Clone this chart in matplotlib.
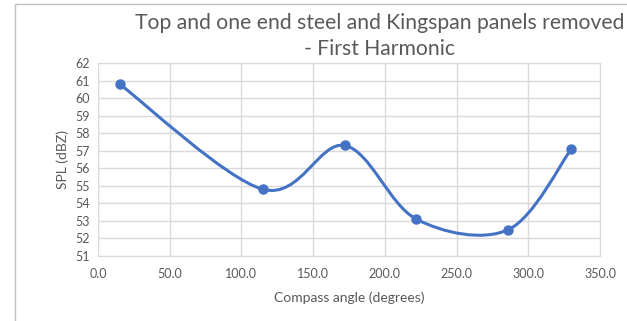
import matplotlib.pyplot as plt
import numpy as np
from matplotlib.path import Path
from matplotlib.patches import PathPatch, Rectangle

angles = [15, 115, 172, 222, 286, 330]
spl = [60.8, 54.8, 57.3, 53.1, 52.5, 57.1]

title = "Top and one end steel and Kingspan panels removed\n- First Harmonic"
x_label = "Compass angle (degrees)"
y_label = "SPL (dBZ)"

blue = "#4472C4"
grey_text = "#595959"
grid_col = "#D9D9D9"

plt.rcParams['font.family'] = ['Lato', 'DejaVu Sans']


def smooth_path(xs, ys):
    # cubic bezier through every point, spreadsheet-style smoothing
    pts = np.column_stack([xs, ys]).astype(float)
    n = len(pts)
    verts = [pts[0]]
    codes = [Path.MOVETO]
    for i in range(n - 1):
        p_prev = pts[i - 1] if i > 0 else pts[i]
        p_next2 = pts[i + 2] if i + 2 < n else pts[i + 1]
        c1 = pts[i] + (pts[i + 1] - p_prev) / 6
        c2 = pts[i + 1] - (p_next2 - pts[i]) / 6
        verts += [c1, c2, pts[i + 1]]
        codes += [Path.CURVE4] * 3
    return Path(verts, codes)


fig = plt.figure(figsize=(6.27, 3.21), dpi=100)
fig.patches.append(Rectangle((15 / 627, -0.1), 1.2, (321 - 4) / 321 + 0.1,
                             transform=fig.transFigure, fill=False,
                             edgecolor="#BFBFBF", linewidth=1))

ax = fig.add_axes([98 / 627, 65 / 321, 502 / 627, 193 / 321])
ax.add_patch(PathPatch(smooth_path(angles, spl), facecolor="none",
                       edgecolor=blue, linewidth=2.2, capstyle="round", zorder=3))
ax.plot(angles, spl, linestyle="none", marker="o", markersize=6.5,
        color=blue, zorder=4)

ax.set_xlim(0, 350)
ax.set_ylim(51, 62)
ax.set_xticks(np.arange(0, 351, 50))
ax.set_xticklabels([f"{v:.1f}" for v in np.arange(0, 351, 50)])
ax.set_yticks(np.arange(51, 63, 1))
ax.grid(True, color=grid_col, linewidth=1)
ax.set_axisbelow(True)
for s in ax.spines.values():
    s.set_color(grid_col)
ax.tick_params(length=0, colors=grey_text, labelsize=9)
ax.tick_params(axis="x", pad=9)
ax.tick_params(axis="y", pad=6)

ax.set_xlabel(x_label, color=grey_text, fontsize=10, labelpad=8)
ax.set_ylabel(y_label, color=grey_text, fontsize=10, labelpad=4)

fig.text(380 / 627, 1 - 36 / 321, title, ha="center", va="center",
         color=grey_text, fontsize=15.2, linespacing=1.4)

plt.savefig("out.png", dpi=100)
plt.close()
